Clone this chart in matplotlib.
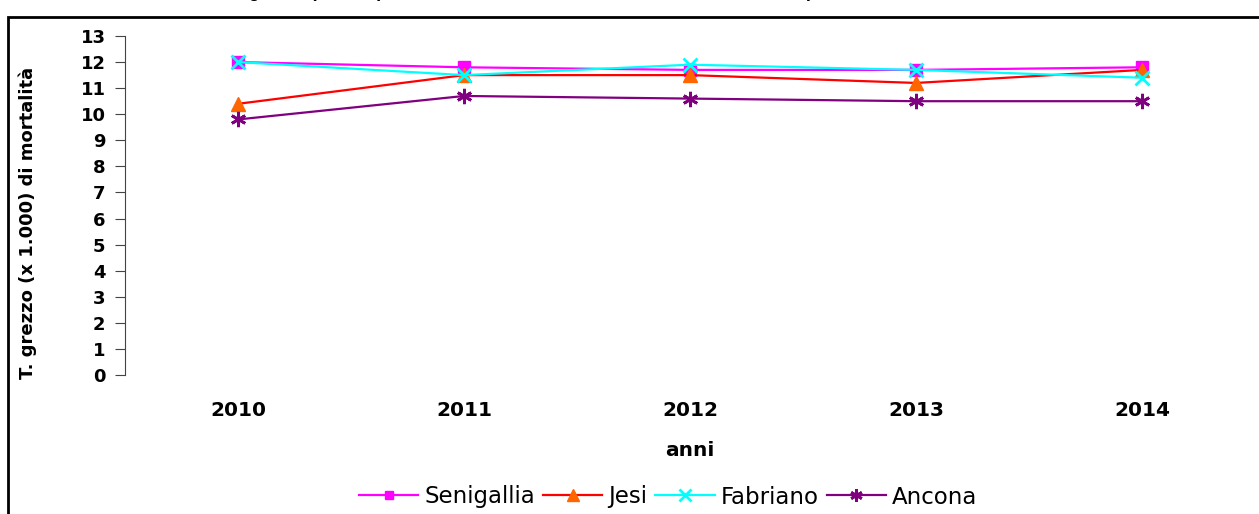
import numpy as np
import matplotlib.pyplot as plt
from matplotlib.patches import Rectangle

# --- dati ---
anni = ['2010', '2011', '2012', '2013', '2014']
senigallia = [12.0, 11.8, 11.7, 11.7, 11.8]
jesi = [10.4, 11.5, 11.5, 11.2, 11.7]
fabriano = [12.0, 11.5, 11.9, 11.7, 11.4]
ancona = [9.8, 10.7, 10.6, 10.5, 10.5]
y_ticks = list(range(0, 14))

plt.rcParams['font.family'] = ['DejaVu Sans']

fig = plt.figure(figsize=(12.59, 5.14), dpi=100)
ax = fig.add_axes([125 / 1259, 1 - 375 / 514, (1255 - 125) / 1259, (375 - 36) / 514])

x = np.arange(len(anni))
ax.plot(x, senigallia, color='#FF00FF', lw=1.6, marker='s', ms=8,
        mfc='#FF00FF', mec='#FF00FF', label='Senigallia')
ax.plot(x, jesi, color='#FF0000', lw=1.6, marker='^', ms=10,
        mfc='#FF6600', mec='#FF6600', label='Jesi')
ax.plot(x, fabriano, color='#00FFFF', lw=1.6, marker='x', ms=10, mew=2,
        label='Fabriano')
ax.plot(x, ancona, color='#800080', lw=1.6, marker=(6, 2, 0), ms=11, mew=2,
        label='Ancona')

ax.set_xlim(-0.5, len(anni) - 0.5)
ax.set_ylim(0, 13)
ax.set_yticks(y_ticks)
ax.set_xticks(x)
ax.set_xticklabels(anni)
for s in ['top', 'right', 'bottom']:
    ax.spines[s].set_visible(False)
ax.spines['left'].set_color('#444444')
ax.tick_params(axis='y', direction='out', length=7, color='#444444',
               labelsize=13, pad=7)
ax.tick_params(axis='x', length=0, labelsize=14.5, pad=19)
for lab in ax.get_xticklabels() + ax.get_yticklabels():
    lab.set_fontweight('bold')

fig.text(690 / 1259, 1 - 456 / 514, 'anni', ha='center', va='baseline',
         fontsize=14.5, fontweight='bold')
fig.text(28 / 1259, 1 - 223 / 514, 'T. grezzo (x 1.000) di mortalità',
         rotation=90, ha='center', va='center', fontsize=13, fontweight='bold')

fig.legend(loc='center', bbox_to_anchor=(668 / 1259, 1 - 497 / 514), ncol=4,
           frameon=False, fontsize=16.5, handlelength=2.6, columnspacing=0.35,
           handletextpad=0.25, markerscale=0.8)

# titolo tagliato in alto
fig.text(193 / 1259, 1 + 3 / 514,
         'Tasso grezzo (x 1.000) di mortalità nei Distretti della Zona Territoriale 7, periodo 2010-2014',
         ha='left', va='baseline', fontsize=13, fontweight='bold',
         family='Liberation Sans')

# cornice del grafico
fig.patches.append(Rectangle((8 / 1259, -0.1), 1.2, 1 - 17 / 514 + 0.1,
                             transform=fig.transFigure, fill=False,
                             edgecolor='black', lw=2))

fig.savefig('out.png', dpi=100)
